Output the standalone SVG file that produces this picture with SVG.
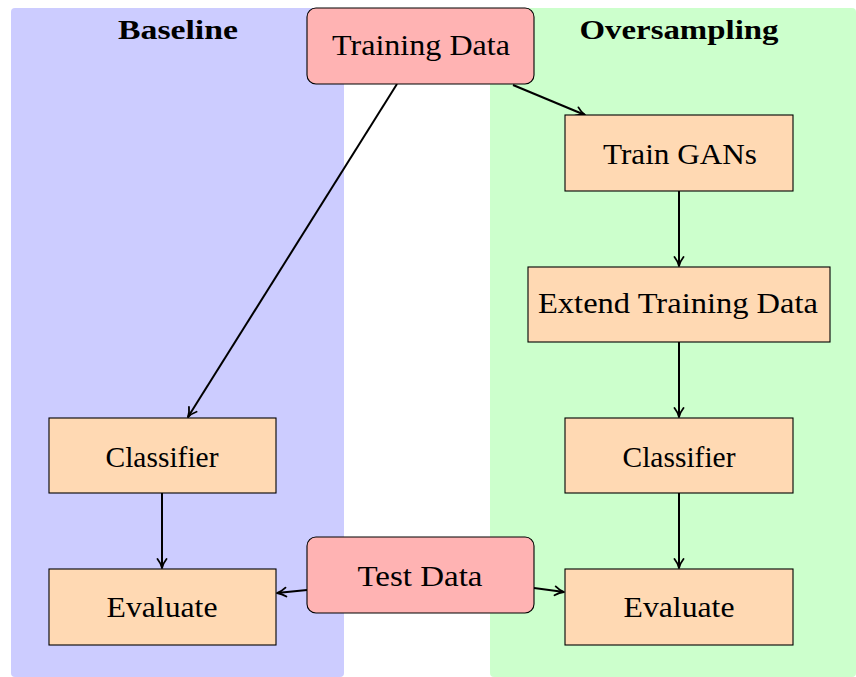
<svg xmlns="http://www.w3.org/2000/svg" width="856" height="677" viewBox="0 0 856 677">
  <defs>
    <style>
      .panel-blue { fill: #ccccff; }
      .panel-green { fill: #ccffcc; }
      .data { fill: #ffb3b3; stroke: #000; stroke-width: 1.1; }
      .step { fill: #ffd9b3; stroke: #000; stroke-width: 1.1; }
      .label { font-family: "Liberation Serif", "DejaVu Serif", serif; font-size: 29px; fill: #000; text-anchor: middle; }
      .title { font-family: "Liberation Serif", "DejaVu Serif", serif; font-size: 27px; font-weight: bold; fill: #000; text-anchor: middle; }
      .edge { fill: none; stroke: #000; stroke-width: 2; marker-end: url(#tip); }
    </style>
    <marker id="tip" viewBox="0 0 12 12" refX="10.5" refY="6" markerWidth="12" markerHeight="12" markerUnits="userSpaceOnUse" orient="auto">
      <path d="M1.5,1.5 Q6,5 10.5,6 Q6,7 1.5,10.5" fill="none" stroke="#000" stroke-width="1.8" stroke-linecap="round" stroke-linejoin="round"/>
    </marker>
  </defs>

  <!-- background panels -->
  <g id="panels">
    <rect class="panel-blue" x="11" y="8" width="333" height="669" rx="4"/>
    <rect class="panel-green" x="490" y="8" width="366" height="669" rx="4"/>
    <text class="title" x="178" y="39" textLength="120" lengthAdjust="spacingAndGlyphs">Baseline</text>
    <text class="title" x="679" y="39" textLength="199" lengthAdjust="spacingAndGlyphs">Oversampling</text>
  </g>

  <!-- connectors -->
  <g id="connectors">
    <line class="edge" x1="397" y1="84" x2="188" y2="417"/>
    <line class="edge" x1="513" y1="85" x2="585" y2="115"/>
    <line class="edge" x1="679" y1="191" x2="679" y2="266"/>
    <line class="edge" x1="679" y1="342" x2="679" y2="417"/>
    <line class="edge" x1="679" y1="493" x2="679" y2="568"/>
    <line class="edge" x1="162" y1="493" x2="162" y2="568"/>
    <line class="edge" x1="307" y1="590" x2="277" y2="593"/>
    <line class="edge" x1="534" y1="588" x2="564" y2="592"/>
  </g>

  <g id="training-data">
    <rect class="data" x="307" y="8" width="227" height="76" rx="9"/>
    <text class="label" x="421" y="55" textLength="178" lengthAdjust="spacingAndGlyphs">Training Data</text>
  </g>

  <g id="train-gans">
    <rect class="step" x="565" y="115" width="228" height="76"/>
    <text class="label" x="680" y="164" textLength="154" lengthAdjust="spacingAndGlyphs">Train GANs</text>
  </g>

  <g id="extend-training-data">
    <rect class="step" x="528" y="267" width="302" height="75"/>
    <text class="label" x="678" y="313" textLength="280" lengthAdjust="spacingAndGlyphs">Extend Training Data</text>
  </g>

  <g id="classifier-baseline">
    <rect class="step" x="49" y="418" width="227" height="75"/>
    <text class="label" x="162" y="467" textLength="113" lengthAdjust="spacingAndGlyphs">Classifier</text>
  </g>

  <g id="classifier-oversampling">
    <rect class="step" x="565" y="418" width="228" height="75"/>
    <text class="label" x="679" y="467" textLength="113" lengthAdjust="spacingAndGlyphs">Classifier</text>
  </g>

  <g id="evaluate-baseline">
    <rect class="step" x="49" y="569" width="227" height="76"/>
    <text class="label" x="162" y="617" textLength="111" lengthAdjust="spacingAndGlyphs">Evaluate</text>
  </g>

  <g id="evaluate-oversampling">
    <rect class="step" x="565" y="569" width="228" height="76"/>
    <text class="label" x="679" y="617" textLength="111" lengthAdjust="spacingAndGlyphs">Evaluate</text>
  </g>

  <g id="test-data">
    <rect class="data" x="307" y="537" width="227" height="76" rx="9"/>
    <text class="label" x="420" y="586" textLength="125" lengthAdjust="spacingAndGlyphs">Test Data</text>
  </g>
</svg>
